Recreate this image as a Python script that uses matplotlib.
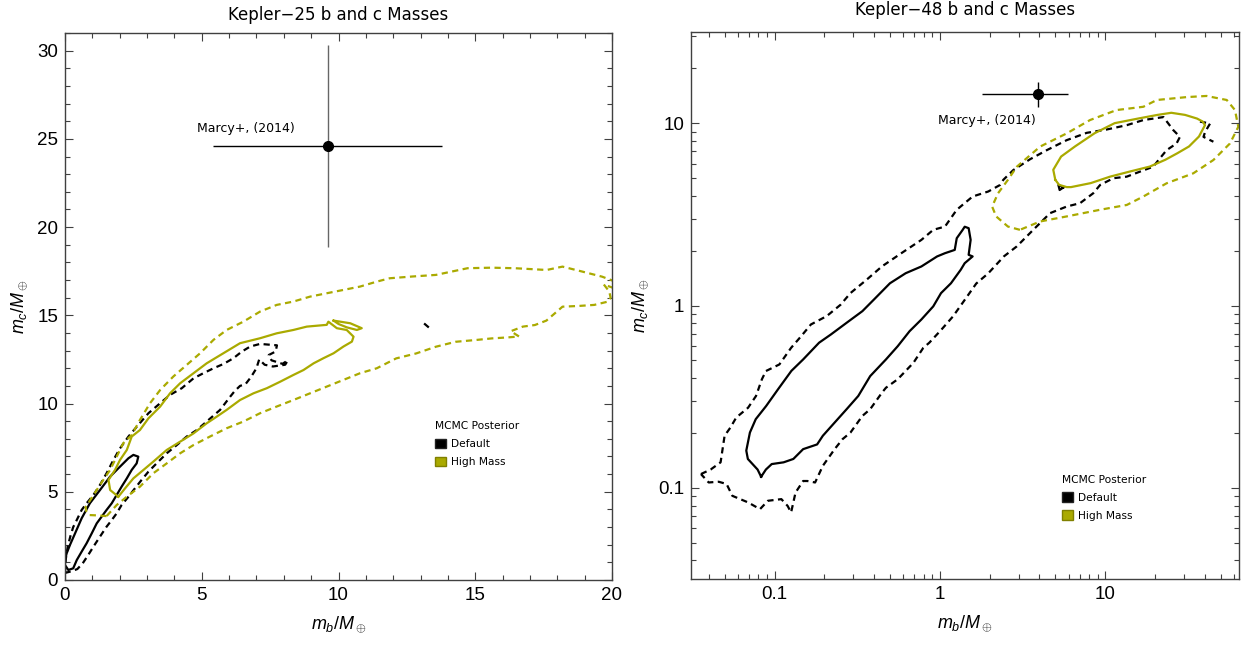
import matplotlib.pyplot as plt
from matplotlib.patches import Patch
from matplotlib.ticker import MultipleLocator, FixedLocator, FixedFormatter, LogLocator, NullFormatter

plt.rcParams['font.family'] = 'Liberation Sans'
plt.rcParams['mathtext.fontset'] = 'custom'
plt.rcParams['mathtext.it'] = 'Liberation Sans:italic'
plt.rcParams['mathtext.rm'] = 'Liberation Sans'

OLIVE = '#aaaa00'

# ---------------- Kepler-25 (linear axes) ----------------
# Default posterior, inner contour
k25_def_in_x = [0.0, 0.06, 0.18, 0.37, 0.61, 0.91, 1.28, 1.65, 1.95, 2.32, 2.50, 2.68, 2.62, 2.44, 2.26,
                2.07, 1.89, 1.71, 1.52, 1.34, 1.16, 0.98, 0.79, 0.61, 0.43, 0.30, 0.12, 0.0, 0.0]
k25_def_in_y = [1.13, 1.51, 1.98, 2.65, 3.50, 4.35, 5.10, 5.86, 6.33, 6.90, 7.09, 6.99, 6.61, 6.24, 5.76,
                5.29, 4.82, 4.35, 3.97, 3.59, 3.21, 2.65, 2.08, 1.61, 1.13, 0.66, 0.57, 0.85, 1.13]
# Default posterior, outer contour
k25_def_out_x = [0.0, 0.03, 0.1, 0.2, 0.3, 0.43, 0.61, 0.79, 1.04, 1.28, 1.52, 1.77, 2.01, 2.32, 2.68,
                 3.05, 3.48, 3.84, 4.27, 4.70, 5.06, 5.43, 5.79, 6.16, 6.46, 6.77, 7.13, 7.75, 7.7,
                 7.45, 7.55, 7.95, 8.15, 8.05, 7.6, 7.3, 7.1, 7.0, 6.8, 6.6, 6.4, 6.2, 6.04, 5.67,
                 5.18, 4.82, 4.45, 4.09, 3.72, 3.35, 3.05, 2.80, 2.56, 2.32, 2.07, 1.89, 1.71, 1.52,
                 1.28, 1.04, 0.85, 0.65, 0.45, 0.25, 0.0]
k25_def_out_y = [0.4, 1.2, 1.9, 2.5, 3.0, 3.40, 3.97, 4.35, 4.82, 5.39, 6.05, 6.80, 7.46, 8.13, 8.79,
                 9.45, 10.02, 10.49, 10.87, 11.43, 11.72, 12.0, 12.24, 12.57, 12.94, 13.23, 13.38, 13.3, 12.95,
                 12.75, 12.45, 12.25, 12.45, 12.2, 12.1, 12.2, 12.5, 12.0, 11.5, 11.1, 11.0, 10.7, 10.39, 9.64,
                 8.98, 8.50, 8.13, 7.65, 7.18, 6.61, 6.14, 5.67, 5.20, 4.72, 4.25, 3.78, 3.40, 3.02,
                 2.46, 1.89, 1.42, 0.95, 0.62, 0.5, 0.4]
k25_def_speck_x = [13.13, 13.34]
k25_def_speck_y = [14.54, 14.26]
# High-mass posterior, inner contour
k25_hi_in_x = [1.95, 1.65, 1.59, 1.83, 2.01, 2.26, 2.44, 2.74, 3.05, 3.48, 3.84, 4.21, 4.70, 5.18, 5.79,
               6.40, 7.13, 7.74, 8.35, 8.84, 9.57, 9.63, 9.94, 10.30, 10.55, 10.49, 10.18, 9.82, 9.45,
               9.09, 8.72, 8.35, 7.87, 7.38, 6.89, 6.40, 5.91, 5.55, 5.18, 4.70, 4.21, 3.72, 3.23,
               2.87, 2.50, 2.20, 1.95]
k25_hi_in_y = [4.72, 5.10, 5.67, 6.24, 6.80, 7.37, 8.13, 8.50, 9.16, 9.83, 10.58, 11.15, 11.72, 12.28, 12.85,
               13.42, 13.70, 13.98, 14.17, 14.36, 14.46, 14.64, 14.27, 14.17, 13.79, 13.51, 13.23, 12.85, 12.57,
               12.28, 11.90, 11.62, 11.24, 10.87, 10.58, 10.20, 9.64, 9.26, 8.88, 8.31, 7.84, 7.37, 6.71,
               6.24, 5.76, 5.20, 4.72]
k25_hi_loop_x = [9.82, 10.43, 10.85, 10.67, 10.30, 10.0, 9.82]
k25_hi_loop_y = [14.70, 14.55, 14.27, 14.17, 14.32, 14.51, 14.70]
# High-mass posterior, outer contour
k25_hi_out_x = [1.52, 1.2, 0.9, 0.78, 0.75, 0.85, 1.16, 1.40, 1.65, 1.95, 2.13, 2.44, 2.74, 3.11, 3.48,
                3.96, 4.45, 4.94, 5.43, 5.91, 6.52, 7.13, 7.74, 8.35, 8.96, 9.57, 10.18, 10.79, 11.40,
                11.87, 12.7, 13.56, 14.72, 15.6, 16.45, 17.61, 18.19, 18.91, 19.64, 20.05, 20.05, 19.7,
                19.9, 19.95, 19.86, 19.35, 18.77, 18.19, 17.9, 17.6, 17.18, 16.74, 16.3, 16.6, 16.2,
                15.59, 15.01, 14.28, 13.56, 12.84, 12.11, 11.40, 10.79, 10.18, 9.57, 8.96, 8.35, 7.74,
                7.13, 6.52, 5.91, 5.30, 4.70, 4.21, 3.72, 3.23, 2.74, 2.26, 1.89, 1.52]
k25_hi_out_y = [3.62, 3.66, 3.68, 3.9, 4.13, 4.35, 5.10, 5.67, 6.24, 7.18, 7.75, 8.22, 9.07, 10.02, 10.77,
                11.53, 12.19, 12.85, 13.61, 14.17, 14.64, 15.21, 15.59, 15.78, 16.06, 16.25, 16.44, 16.63, 16.91,
                17.1, 17.2, 17.29, 17.67, 17.7, 17.67, 17.57, 17.76, 17.48, 17.19, 16.95, 16.55, 16.75,
                16.35, 16.0, 15.78, 15.59, 15.53, 15.49, 15.1, 14.7, 14.45, 14.36, 14.1, 13.8, 13.75,
                13.69, 13.60, 13.50, 13.22, 12.84, 12.56, 12.0, 11.72, 11.34, 10.96, 10.58, 10.20, 9.83,
                9.45, 8.98, 8.60, 8.13, 7.65, 7.18, 6.61, 6.05, 5.29, 4.72, 4.25, 3.62]
# Marcy+ (2014) measurement
k25_marcy_x, k25_marcy_xerr = 9.6, [[4.2], [4.2]]
k25_marcy_y, k25_marcy_yerr = 24.6, [[5.7], [5.7]]

# ---------------- Kepler-48 (log axes) ----------------
k48_def_in_x = [0.083, 0.079, 0.069, 0.0675, 0.071, 0.077, 0.089, 0.105, 0.1265, 0.149, 0.186, 0.219,
                0.273, 0.340, 0.400, 0.499, 0.621, 0.773, 0.962, 1.074, 1.230, 1.265, 1.374, 1.413,
                1.493, 1.535, 1.493, 1.578, 1.413, 1.337, 1.167, 1.016, 0.912, 0.773, 0.656, 0.556,
                0.472, 0.379, 0.321, 0.273, 0.231, 0.196, 0.181, 0.149, 0.130, 0.1135, 0.0962, 0.0887, 0.083]
k48_def_in_y = [0.115, 0.126, 0.144, 0.160, 0.201, 0.238, 0.281, 0.347, 0.438, 0.506, 0.625, 0.693,
                0.804, 0.931, 1.08, 1.324, 1.503, 1.637, 1.858, 1.936, 2.018, 2.339, 2.600, 2.704,
                2.655, 2.291, 1.897, 1.858, 1.706, 1.570, 1.324, 1.169, 0.989, 0.838, 0.723, 0.598,
                0.506, 0.410, 0.319, 0.270, 0.228, 0.193, 0.173, 0.163, 0.144, 0.138, 0.135, 0.126, 0.115]
k48_def_out_x = [0.0359, 0.0411, 0.0472, 0.0499, 0.0541, 0.0587, 0.0692, 0.0773, 0.0839, 0.0887, 0.107,
                 0.126, 0.145, 0.166, 0.207, 0.251, 0.288, 0.359, 0.447, 0.587, 0.773, 0.912, 1.074,
                 1.265, 1.578, 1.963, 2.31, 2.42, 2.78, 3.51, 4.43, 5.85, 7.73, 10.2, 13.5, 17.0, 22.5,
                 25.8, 28.3, 27.0, 23.5, 21.4, 19.5, 16.2, 13.5, 11.2, 9.31, 8.47, 7.04, 5.85, 4.64,
                 3.67, 2.92, 2.44, 1.96, 1.66, 1.41, 1.20, 1.02, 0.863, 0.794, 0.692, 0.556, 0.472,
                 0.447, 0.379, 0.340, 0.288, 0.258, 0.231, 0.196, 0.176, 0.158, 0.149, 0.134, 0.126,
                 0.120, 0.110, 0.0912, 0.0817, 0.0692, 0.0556, 0.0513, 0.0459, 0.040, 0.0359]
k48_def_out_y = [0.119, 0.126, 0.138, 0.193, 0.214, 0.243, 0.275, 0.319, 0.394, 0.437, 0.475,
                 0.586, 0.679, 0.787, 0.875, 1.01, 1.17, 1.38, 1.64, 1.94, 2.29, 2.60, 2.71,
                 3.35, 3.96, 4.22, 4.58, 4.89, 5.53, 6.34, 7.11, 8.07, 8.85, 9.23, 9.75, 10.4, 10.8,
                 9.16, 8.41, 7.74, 7.11, 6.41, 5.77, 5.42, 5.09, 4.99, 4.58, 4.13, 3.64, 3.49, 3.21,
                 2.60, 2.11, 1.86, 1.50, 1.32, 1.07, 0.871, 0.736, 0.625, 0.586, 0.485, 0.394, 0.354,
                 0.333, 0.270, 0.248, 0.201, 0.185, 0.163, 0.132, 0.107, 0.109, 0.109, 0.0942, 0.0733,
                 0.0796, 0.0867, 0.0849, 0.0764, 0.0832, 0.0904, 0.105, 0.108, 0.107, 0.119]
k48_def_bit_x = [37.4, 43.1, 40.2, 39.3, 45.1]
k48_def_bit_y = [10.2, 9.96, 8.97, 8.41, 7.91]
k48_def_notch_x = [5.6, 5.21, 5.3, 5.5]
k48_def_notch_y = [4.45, 4.58, 4.3, 4.4]
k48_hi_in_x = [4.99, 4.85, 5.41, 6.56, 8.63, 11.4, 15.8, 20.7, 25.1, 30.4, 35.9, 38.9, 40.1, 36.9,
               32.1, 27.3, 23.1, 18.6, 14.1, 10.7, 8.17, 6.21, 5.85, 5.26, 4.99]
k48_hi_in_y = [4.89, 5.55, 6.56, 7.45, 8.81, 10.0, 10.6, 11.1, 11.4, 11.1, 10.6, 10.2, 9.75, 8.45,
               7.45, 6.84, 6.30, 5.78, 5.43, 5.09, 4.69, 4.46, 4.46, 4.59, 4.89]
k48_hi_out_x = [3.05, 2.58, 2.19, 2.07, 2.25, 2.58, 2.92, 4.04, 5.85, 8.09, 11.7, 17.0, 20.5, 31.1,
                41.0, 54.3, 60.9, 63.8, 56.8, 45.1, 34.1, 23.5, 17.0, 13.5, 9.31, 5.85, 4.04, 3.05]
k48_hi_out_y = [2.60, 2.71, 3.08, 3.49, 4.13, 4.89, 5.77, 7.44, 8.79, 10.4, 11.8, 12.3, 13.4, 13.9,
                14.1, 13.4, 11.8, 9.55, 7.74, 6.28, 5.31, 4.68, 3.96, 3.56, 3.35, 3.08, 2.89, 2.60]
k48_marcy_x, k48_marcy_xerr = 3.9, [[2.11], [2.07]]
k48_marcy_y, k48_marcy_yerr = 14.4, [[2.1], [2.4]]

DASH = (0, (2.8, 2.0))

fig = plt.figure(figsize=(12.47, 6.45), dpi=100)
ax1 = fig.add_axes([65 / 1247, 65 / 645, 547 / 1247, 547 / 645])
ax2 = fig.add_axes([691 / 1247, 66 / 645, 548 / 1247, 547 / 645])


def style(ax):
    ax.tick_params(which='both', direction='in', top=True, right=True, labelsize=13.5,
                   color='#404040', width=0.8, pad=5)
    ax.tick_params(which='major', length=6)
    ax.tick_params(which='minor', length=3.5)
    for s in ax.spines.values():
        s.set_color('#404040')
        s.set_linewidth(1.0)
    ax.set_xlabel(r'$m_b/M_\oplus$', fontsize=13, labelpad=7)
    ax.set_ylabel(r'$m_c/M_\oplus$', fontsize=13, labelpad=6)


def legend(ax, x, y):
    h = [Patch(facecolor='black', edgecolor='#222222', label='Default'),
         Patch(facecolor=OLIVE, edgecolor='#808000', label='High Mass')]
    ax.legend(handles=h, title='MCMC Posterior', loc='upper left', bbox_to_anchor=(x, y),
              frameon=False, borderpad=0, handlelength=1.0, handleheight=1.0,
              handletextpad=0.5, labelspacing=0.7, alignment='left',
              prop={'family': 'DejaVu Sans', 'size': 7.7},
              title_fontproperties={'family': 'DejaVu Sans', 'size': 7.7})


# left panel
ax1.plot(k25_def_out_x, k25_def_out_y, color='black', lw=1.6, ls=DASH)
ax1.plot(k25_def_speck_x, k25_def_speck_y, color='black', lw=1.6, ls=DASH)
ax1.plot(k25_def_in_x, k25_def_in_y, color='black', lw=1.6)
ax1.plot(k25_hi_out_x, k25_hi_out_y, color=OLIVE, lw=1.6, ls=DASH)
ax1.plot(k25_hi_in_x, k25_hi_in_y, color=OLIVE, lw=1.6)
ax1.plot(k25_hi_loop_x, k25_hi_loop_y, color=OLIVE, lw=1.6)
ax1.errorbar([k25_marcy_x], [k25_marcy_y], yerr=k25_marcy_yerr, fmt='none', ecolor='#666666', elinewidth=1.0)
ax1.errorbar([k25_marcy_x], [k25_marcy_y], xerr=k25_marcy_xerr, fmt='o', color='black', ms=7,
             elinewidth=1.0, capsize=0)
ax1.text(6.63, 25.6, 'Marcy+, (2014)', ha='center', va='center', fontsize=9, family='DejaVu Sans')
ax1.set_xlim(0, 20)
ax1.set_ylim(0, 31)
ax1.xaxis.set_major_locator(MultipleLocator(5))
ax1.xaxis.set_minor_locator(MultipleLocator(1))
ax1.yaxis.set_major_locator(MultipleLocator(5))
ax1.yaxis.set_minor_locator(MultipleLocator(1))
ax1.set_title('Kepler\u221225 b and c Masses', fontsize=12, family='DejaVu Sans', pad=9)
style(ax1)
legend(ax1, 0.667, 0.30)

# right panel
ax2.set_xscale('log')
ax2.set_yscale('log')
ax2.plot(k48_def_out_x, k48_def_out_y, color='black', lw=1.6, ls=DASH)
ax2.plot(k48_def_bit_x, k48_def_bit_y, color='black', lw=1.6, ls=DASH)
ax2.plot(k48_def_notch_x, k48_def_notch_y, color='black', lw=1.6)
ax2.plot(k48_def_in_x, k48_def_in_y, color='black', lw=1.6)
ax2.plot(k48_hi_out_x, k48_hi_out_y, color=OLIVE, lw=1.6, ls=DASH)
ax2.plot(k48_hi_in_x, k48_hi_in_y, color=OLIVE, lw=1.6)
ax2.errorbar([k48_marcy_x], [k48_marcy_y], xerr=k48_marcy_xerr, yerr=k48_marcy_yerr, fmt='o',
             color='black', ms=7, elinewidth=1.0, capsize=0)
ax2.text(1.93, 10.3, 'Marcy+, (2014)', ha='center', va='center', fontsize=9, family='DejaVu Sans')
ax2.set_xlim(10 ** -1.505, 10 ** 1.809)
ax2.set_ylim(10 ** -1.5, 10 ** 1.5)
for axis in (ax2.xaxis, ax2.yaxis):
    axis.set_major_locator(FixedLocator([0.1, 1, 10]))
    axis.set_major_formatter(FixedFormatter(['0.1', '1', '10']))
    axis.set_minor_locator(LogLocator(base=10, subs=range(2, 10)))
    axis.set_minor_formatter(NullFormatter())
ax2.set_title('Kepler\u221248 b and c Masses', fontsize=12, family='DejaVu Sans', pad=12)
style(ax2)
legend(ax2, 0.668, 0.20)

fig.savefig('out.png', dpi=100)
